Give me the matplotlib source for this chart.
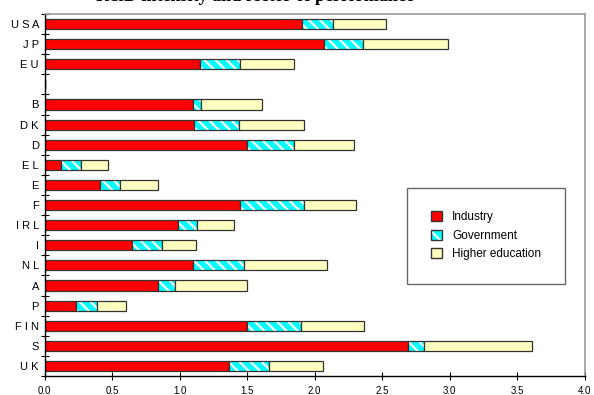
import matplotlib.pyplot as plt
import numpy as np
from matplotlib.patches import Patch

plt.rcParams['font.family'] = ['Liberation Sans', 'DejaVu Sans']
plt.rcParams['hatch.linewidth'] = 1.6

# countries from top to bottom, blank slot separates EU from member states
countries = ["U S A", "J P", "E U", "", "B", "D K", "D", "E L", "E", "F",
             "I R L", "I", "N L", "A", "P", "F I N", "S", "U K"]
industry = [1.91, 2.07, 1.15, np.nan, 1.10, 1.11, 1.50, 0.12, 0.41, 1.45,
            0.99, 0.65, 1.10, 0.84, 0.23, 1.50, 2.69, 1.37]
government = [0.23, 0.29, 0.30, np.nan, 0.06, 0.33, 0.35, 0.15, 0.15, 0.47,
              0.14, 0.22, 0.38, 0.13, 0.16, 0.40, 0.12, 0.29]
higher_ed = [0.39, 0.63, 0.40, np.nan, 0.45, 0.48, 0.44, 0.20, 0.28, 0.39,
             0.27, 0.25, 0.61, 0.53, 0.21, 0.47, 0.80, 0.40]

ind = np.nan_to_num(np.array(industry))
gov = np.nan_to_num(np.array(government))
he = np.nan_to_num(np.array(higher_ed))
y = np.arange(len(countries))
h = 0.5
edge = '#333333'

fig = plt.figure(figsize=(5.94, 3.95), dpi=100)
ax = fig.add_axes([44.5 / 594, 19 / 395, 540 / 594, 362 / 395])

ax.barh(y, ind, height=h, left=0, color='#FF0000', edgecolor=edge, linewidth=0.9)
# hatched government segment: white stripes first, then the dark outline
ax.barh(y, gov, height=h, left=ind, color='#00FFFF', edgecolor='white', hatch='\\\\\\', linewidth=0)
ax.barh(y, gov, height=h, left=ind, fill=False, edgecolor=edge, linewidth=0.9)
ax.barh(y, he, height=h, left=ind + gov, color='#FFFFC0', edgecolor=edge, linewidth=0.9)

ax.set_ylim(len(countries) - 0.5, -0.5)
ax.set_xlim(0, 4.0)
ax.set_xticks(np.arange(0, 4.01, 0.5))
ax.set_xticklabels([f'{v:.1f}' for v in np.arange(0, 4.01, 0.5)], fontsize=7)
ax.set_yticks(y)
ax.set_yticklabels(countries, fontsize=8)
ax.set_yticks(np.arange(-0.5, len(countries), 1), minor=True)
ax.tick_params(axis='y', which='major', length=0, pad=4)
ax.tick_params(axis='y', which='minor', direction='inout', length=6, width=0.8)
ax.tick_params(axis='x', direction='inout', length=6, width=0.8, pad=4)

for s in ['top', 'right']:
    ax.spines[s].set_color('#999999')
    ax.spines[s].set_linewidth(1.2)
for s in ['left', 'bottom']:
    ax.spines[s].set_linewidth(1.0)

# legend with hand-built handles so the hatch shows
gov_fill = Patch(facecolor='#00FFFF', edgecolor='white', hatch='\\\\\\', linewidth=0)
gov_line = Patch(fill=False, edgecolor=edge)
handles = [
    Patch(facecolor='#FF0000', edgecolor=edge),
    (gov_fill, gov_line),
    Patch(facecolor='#FFFFC0', edgecolor=edge),
]
labels = ['Industry', 'Government', 'Higher education']
leg = ax.legend(handles, labels, loc='upper left', bbox_to_anchor=(0.672, 0.52),
                fontsize=8.5, frameon=True, fancybox=False, edgecolor='#444444',
                handlelength=0.9, handleheight=0.9, handletextpad=0.9,
                borderpad=2.0, borderaxespad=0, labelspacing=0.55)
leg.get_frame().set_linewidth(1.0)

# title sits mostly above the top edge of the figure
fig.text(0.43, 1 - 1 / 395, 'R&D intensity and sector of performance',
         ha='center', va='baseline', fontsize=13, fontweight='bold',
         family='Liberation Serif')

fig.savefig('out.png', dpi=100)
